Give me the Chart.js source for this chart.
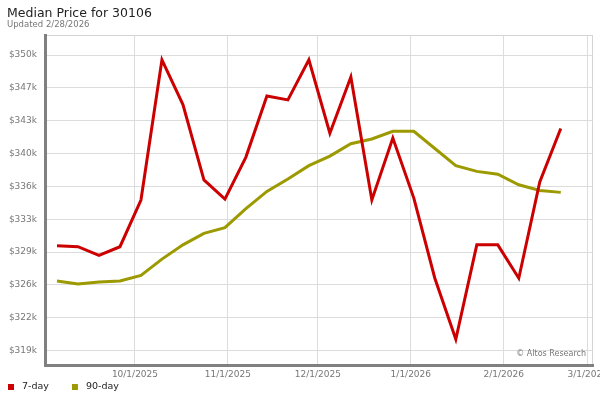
<!DOCTYPE html>
<html>
<head>
<meta charset="utf-8">
<script src="https://cdn.jsdelivr.net/npm/chart.js@4/dist/chart.umd.min.js"></script>
<style>
  html, body { margin: 0; padding: 0; background: #fff; }
  #wrap { width: 600px; height: 400px; }
</style>
</head>
<body>
<div id="wrap"><canvas id="myChart" width="600" height="400"></canvas></div>
<script>
// Weekly dates (Fridays)
const weekDates = [
    '2025-09-05', '2025-09-12', '2025-09-19', '2025-09-26',
    '2025-10-03', '2025-10-10', '2025-10-17', '2025-10-24', '2025-10-31',
    '2025-11-07', '2025-11-14', '2025-11-21', '2025-11-28',
    '2025-12-05', '2025-12-12', '2025-12-19', '2025-12-26',
    '2026-01-02', '2026-01-09', '2026-01-16', '2026-01-23', '2026-01-30',
    '2026-02-06', '2026-02-13', '2026-02-20'
]

const sevenDay = [
    330000, 329900, 329000, 329900, 334800, 349500, 344800, 336900, 334900,
    339300, 345700, 345300, 349500, 341800, 347700, 334800, 341300, 335000,
    326600, 320200, 330100, 330100, 326600, 336700, 342300
]

const ninetyDay = [
    326300, 326000, 326200, 326300, 326900, 328600, 330100, 331300, 331900,
    333900, 335700, 337000, 338400, 339400, 340700, 341200, 342000, 342000,
    340200, 338400, 337800, 337500, 336400, 335800, 335600
]

const xTickDates = ['2025-10-01', '2025-11-01', '2025-12-01', '2026-01-01', '2026-02-01', '2026-03-01']
const yTickValues = [319000, 322444, 325889, 329333, 332778, 336222, 339667, 343111, 346556, 350000]

const titleText = 'Median Price for 30106'
const subtitleText = 'Updated 2/28/2026'
const creditText = '\u00a9 Altos Research'

function toTime(s) {
    const p = s.split('-')
    return Date.UTC(+p[0], +p[1] - 1, +p[2])
}

function fmtDate(v) {
    const d = new Date(v)
    return (d.getUTCMonth() + 1) + '/' + d.getUTCDate() + '/' + d.getUTCFullYear()
}

Chart.defaults.font.family = '"DejaVu Sans", Verdana, sans-serif'

// light frame round the plot area
const plotFrame = {
    id: 'plotFrame',
    beforeDraw(chart) {
        const a = chart.chartArea
        const ctx = chart.ctx
        ctx.save()
        ctx.strokeStyle = '#d4d4d4'
        ctx.lineWidth = 1
        ctx.strokeRect(a.left + 0.5, a.top + 0.5, a.right - a.left - 1, a.bottom - a.top - 1)
        ctx.restore()
    },
    afterDraw(chart) {
        const a = chart.chartArea
        const ctx = chart.ctx
        ctx.save()
        ctx.font = '8px "DejaVu Sans"'
        ctx.fillStyle = '#777'
        ctx.textAlign = 'right'
        ctx.textBaseline = 'middle'
        ctx.fillText(creditText, a.right - 7, a.bottom - 11)
        ctx.restore()
    }
}

// small legend row under the axis
const legendRow = {
    id: 'legendRow',
    afterDraw(chart) {
        const ctx = chart.ctx
        let x = 8
        ctx.save()
        ctx.font = '9.5px "DejaVu Sans"'
        ctx.textBaseline = 'middle'
        ctx.textAlign = 'left'
        chart.data.datasets.forEach(function (ds) {
            ctx.fillStyle = ds.borderColor
            ctx.fillRect(x, 384, 6, 6)
            ctx.fillStyle = '#222'
            ctx.fillText(ds.label, x + 14, 387)
            x += 14 + ctx.measureText(ds.label).width + 23
        })
        ctx.restore()
    }
}

const chart = new Chart(document.getElementById('myChart'), {
    type: 'line',
    data: {
        datasets: [
            {
                label: '7-day',
                data: weekDates.map((d, i) => ({ x: toTime(d), y: sevenDay[i] })),
                borderColor: '#cc0000',
                backgroundColor: '#cc0000',
                borderWidth: 3,
                pointRadius: 0,
                tension: 0
            },
            {
                label: '90-day',
                data: weekDates.map((d, i) => ({ x: toTime(d), y: ninetyDay[i] })),
                borderColor: '#9c9a00',
                backgroundColor: '#9c9a00',
                borderWidth: 3,
                pointRadius: 0,
                tension: 0
            }
        ]
    },
    options: {
        responsive: false,
        animation: false,
        layout: { padding: { left: 7, right: 7, top: 0, bottom: 0 } },
        plugins: {
            legend: { display: false },
            tooltip: { enabled: false },
            title: {
                display: true,
                text: titleText,
                align: 'start',
                color: '#222',
                font: { size: 12.5, weight: 'normal', lineHeight: 1 },
                padding: { top: 7, bottom: 0 }
            },
            subtitle: {
                display: true,
                text: subtitleText,
                align: 'start',
                color: '#777',
                font: { size: 8.5, weight: 'normal', lineHeight: 1 },
                padding: { top: 1, bottom: 6 }
            }
        },
        scales: {
            x: {
                type: 'linear',
                min: Date.UTC(2025, 8, 1),
                max: Date.UTC(2026, 2, 2, 18),
                afterBuildTicks: function (scale) {
                    scale.ticks = xTickDates.map(d => ({ value: toTime(d) }))
                },
                afterFit: function (scale) {
                    scale.height = 35
                    scale.paddingLeft = 0
                    scale.paddingRight = 0
                },
                ticks: {
                    callback: v => fmtDate(v),
                    color: '#777',
                    font: { size: 9 },
                    padding: 4,
                    maxRotation: 0,
                    autoSkip: false
                },
                grid: { color: '#dcdcdc', drawTicks: false },
                border: { color: '#808080', width: 3 }
            },
            y: {
                min: 317500,
                max: 352100,
                afterBuildTicks: function (scale) {
                    scale.ticks = yTickValues.map(v => ({ value: v }))
                },
                afterFit: function (scale) {
                    scale.width = 38
                    scale.paddingTop = 0
                    scale.paddingBottom = 0
                },
                ticks: {
                    callback: v => '$' + Math.round(v / 1000) + 'k',
                    color: '#777',
                    font: { size: 9 },
                    padding: 8
                },
                grid: { color: '#dcdcdc', drawTicks: false },
                border: { color: '#808080', width: 3 }
            }
        }
    },
    plugins: [plotFrame, legendRow]
})
</script>
</body>
</html>
